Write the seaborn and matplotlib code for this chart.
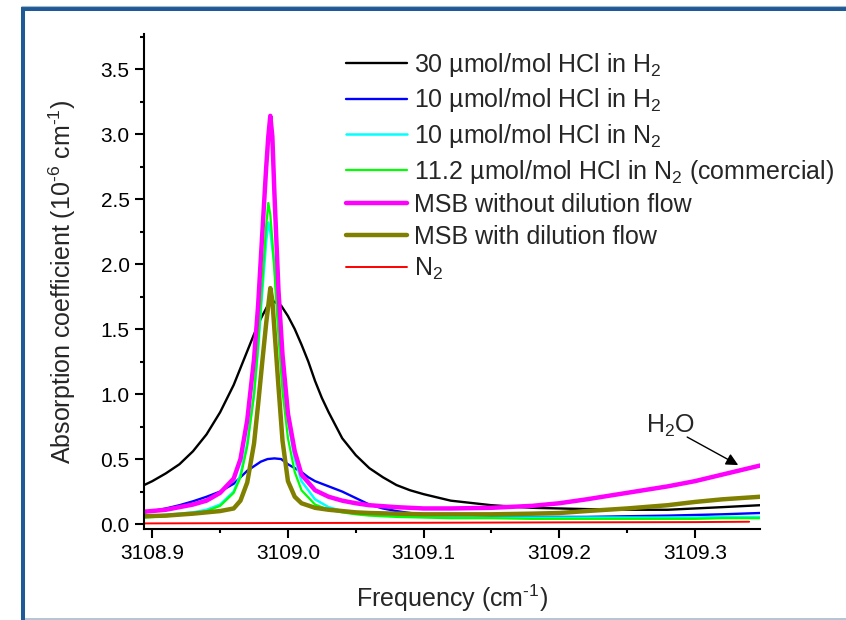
import matplotlib
matplotlib.use("Agg")
import matplotlib.pyplot as plt
import seaborn as sns
from matplotlib.lines import Line2D
from matplotlib.ticker import MultipleLocator, FormatStrFormatter

sns.set_style("ticks")
plt.rcParams['font.family'] = ['Liberation Sans', 'DejaVu Sans']
plt.rcParams['mathtext.fontset'] = 'custom'
plt.rcParams['mathtext.rm'] = 'Liberation Sans'
plt.rcParams['mathtext.it'] = 'Liberation Sans:italic'
plt.rcParams['mathtext.bf'] = 'Liberation Sans:bold'
plt.rcParams['mathtext.default'] = 'regular'

# ---------------- data ----------------
freq = [3108.894, 3108.910, 3108.930, 3108.940, 3108.950, 3108.960, 3108.965,
        3108.970, 3108.975, 3108.978, 3108.981, 3108.984, 3108.9855, 3108.987,
        3108.9885, 3108.990, 3108.993, 3108.996, 3109.000, 3109.005, 3109.010,
        3109.020, 3109.030, 3109.040, 3109.050, 3109.060, 3109.080, 3109.100,
        3109.120, 3109.150, 3109.180, 3109.200, 3109.220, 3109.250, 3109.280,
        3109.300, 3109.320, 3109.348]

freq_h2 = [3108.894, 3108.900, 3108.910, 3108.920, 3108.930, 3108.940, 3108.950,
           3108.960, 3108.970, 3108.975, 3108.980, 3108.985, 3108.990, 3108.995,
           3109.000, 3109.005, 3109.010, 3109.015, 3109.020, 3109.025, 3109.030,
           3109.035, 3109.040, 3109.050, 3109.060, 3109.070, 3109.080, 3109.090,
           3109.100, 3109.120, 3109.150, 3109.180, 3109.200, 3109.220, 3109.250,
           3109.280, 3109.300, 3109.320, 3109.348]

hcl30_h2 = [0.30, 0.33, 0.39, 0.46, 0.56, 0.69, 0.86, 1.07, 1.33, 1.46, 1.58, 1.68,
            1.71, 1.68, 1.60, 1.50, 1.38, 1.25, 1.10, 0.97, 0.86, 0.76, 0.66, 0.53,
            0.43, 0.36, 0.30, 0.26, 0.23, 0.18, 0.145, 0.125, 0.12, 0.115, 0.11,
            0.11, 0.12, 0.13, 0.145]

hcl10_h2 = [0.09, 0.10, 0.12, 0.145, 0.175, 0.21, 0.25, 0.31, 0.41, 0.445, 0.48,
            0.50, 0.505, 0.50, 0.46, 0.43, 0.40, 0.36, 0.33, 0.31, 0.29, 0.27, 0.25,
            0.20, 0.15, 0.12, 0.10, 0.085, 0.075, 0.065, 0.06, 0.055, 0.055, 0.055,
            0.06, 0.065, 0.07, 0.075, 0.085]

hcl10_n2 = [0.06, 0.07, 0.09, 0.11, 0.15, 0.25, 0.38, 0.62, 1.00, 1.35, 1.78, 2.18,
            2.32, 2.25, 2.12, 2.00, 1.55, 1.15, 0.80, 0.50, 0.33, 0.19, 0.13, 0.10,
            0.085, 0.075, 0.065, 0.06, 0.055, 0.05, 0.05, 0.05, 0.05, 0.05, 0.05,
            0.05, 0.055, 0.055]

hcl112_n2 = [0.05, 0.06, 0.08, 0.10, 0.14, 0.24, 0.36, 0.60, 1.00, 1.38, 1.85, 2.30,
             2.47, 2.38, 2.18, 1.95, 1.45, 1.02, 0.66, 0.40, 0.26, 0.15, 0.11, 0.09,
             0.075, 0.065, 0.055, 0.05, 0.045, 0.045, 0.04, 0.04, 0.04, 0.04, 0.04,
             0.04, 0.045, 0.045]

msb_no_dil = [0.095, 0.11, 0.15, 0.18, 0.24, 0.35, 0.50, 0.80, 1.27, 1.68, 2.22, 2.75,
              2.98, 3.14, 2.98, 2.55, 1.80, 1.30, 0.85, 0.56, 0.38, 0.26, 0.21, 0.18,
              0.16, 0.145, 0.13, 0.12, 0.12, 0.125, 0.14, 0.16, 0.19, 0.24, 0.29,
              0.33, 0.38, 0.45]

msb_dil = [0.06, 0.065, 0.08, 0.09, 0.10, 0.12, 0.18, 0.32, 0.62, 0.92, 1.24, 1.55,
           1.68, 1.815, 1.72, 1.50, 1.06, 0.64, 0.33, 0.21, 0.16, 0.125, 0.11, 0.10,
           0.09, 0.085, 0.08, 0.075, 0.075, 0.075, 0.08, 0.085, 0.10, 0.12, 0.145,
           0.17, 0.19, 0.21]

freq_n2 = [3108.894, 3109.000, 3109.100, 3109.200, 3109.300, 3109.340]
n2_only = [0.005, 0.008, 0.010, 0.013, 0.015, 0.018]

labels = ["30 µmol/mol HCl in H$_2$",
          "10 µmol/mol HCl in H$_2$",
          "10 µmol/mol HCl in N$_2$",
          "11.2 µmol/mol HCl in N$_2$ (commercial)",
          "MSB without dilution flow",
          "MSB with dilution flow",
          "N$_2$"]
colors = ["#000000", "#0000FF", "#00FFFF", "#00FF00", "#FF00FF", "#808000", "#FF0000"]
widths = [1.7, 1.7, 1.8, 1.6, 3.2, 3.2, 1.4]

x_ticks = [3108.9, 3109.0, 3109.1, 3109.2, 3109.3]
y_ticks = [0.0, 0.5, 1.0, 1.5, 2.0, 2.5, 3.0, 3.5]

# ---------------- figure ----------------
W, H = 846, 620
fig = plt.figure(figsize=(W / 100, H / 100), dpi=100)
ax_l, ax_r, ax_t, ax_b = 144.3, 760, 34.3, 529
ax = fig.add_axes([ax_l / W, 1 - ax_b / H, (ax_r - ax_l) / W, (ax_b - ax_t) / H])

xs = [freq_h2, freq_h2, freq, freq, freq, freq, freq_n2]
ys = [hcl30_h2, hcl10_h2, hcl10_n2, hcl112_n2, msb_no_dil, msb_dil, n2_only]
for x, y, lab, c, lw in zip(xs, ys, labels, colors, widths):
    sns.lineplot(x=x, y=y, ax=ax, color=c, linewidth=lw, label=lab,
                 estimator=None, sort=False)

ax.set_xlim(3108.8941, 3109.348)
ax.set_ylim(-0.038, 3.767)
ax.set_xticks(x_ticks)
ax.set_yticks(y_ticks)
ax.xaxis.set_major_formatter(FormatStrFormatter('%.1f'))
ax.yaxis.set_major_formatter(FormatStrFormatter('%.1f'))
ax.xaxis.set_minor_locator(MultipleLocator(0.05))
ax.yaxis.set_minor_locator(MultipleLocator(0.25))
ax.tick_params(which='major', direction='out', length=6.5, width=1.5,
               labelsize=15, colors='black', pad=4)
ax.tick_params(which='minor', direction='out', length=3.2, width=1.5, colors='black')

sns.despine(ax=ax)
for s in ['left', 'bottom']:
    ax.spines[s].set_linewidth(1.5)
    ax.spines[s].set_color('black')

ax.set_xlabel(r"Frequency (cm$^{\text{-1}}$)", fontsize=18, va='center', ha='center')
ax.set_ylabel(r"Absorption coefficient (10$^{\text{-6}}$ cm$^{\text{-1}}$)", fontsize=18,
              va='center', ha='center')
ax.xaxis.set_label_coords(0.5, (ax_b - 598) / (ax_b - ax_t))
ax.yaxis.set_label_coords((62 - ax_l) / (ax_r - ax_l), 0.5)

leg = ax.legend(loc='upper left', bbox_to_anchor=(346 / W, 1 - 51 / H),
                bbox_transform=fig.transFigure, frameon=False, fontsize=18,
                handlelength=2.45, handletextpad=0.25, labelspacing=0.3,
                borderpad=0, borderaxespad=0)

# H2O annotation
def px2data(px, py):
    return (3108.9 + (px - 152.3) / 1356.0, (524 - py) / 130.0)

ax.text(*px2data(670, 426), "H$_2$O", fontsize=18, ha='center', va='center')
ax.annotate("", xy=px2data(738, 465), xytext=px2data(687, 437),
            arrowprops=dict(arrowstyle='-|>', color='black', lw=1.0,
                            mutation_scale=18, shrinkA=0, shrinkB=0))

# outer frame
dark = "#1F5A97"
light = "#A7BACB"
fig.add_artist(Line2D([23 / W, 23 / W], [0, 1 - 7 / H], transform=fig.transFigure,
                      color=dark, lw=2.9, solid_capstyle='butt'))
fig.add_artist(Line2D([21 / W, 1], [1 - 9 / H, 1 - 9 / H], transform=fig.transFigure,
                      color=dark, lw=2.9, solid_capstyle='butt'))
fig.add_artist(Line2D([21 / W, 1], [1 - 6 / H, 1 - 6 / H], transform=fig.transFigure,
                      color=light, lw=0.8, solid_capstyle='butt'))
fig.add_artist(Line2D([25 / W, 1], [1 - 619 / H, 1 - 619 / H], transform=fig.transFigure,
                      color=light, lw=1.2, solid_capstyle='butt'))

fig.savefig("out.png", dpi=100)
